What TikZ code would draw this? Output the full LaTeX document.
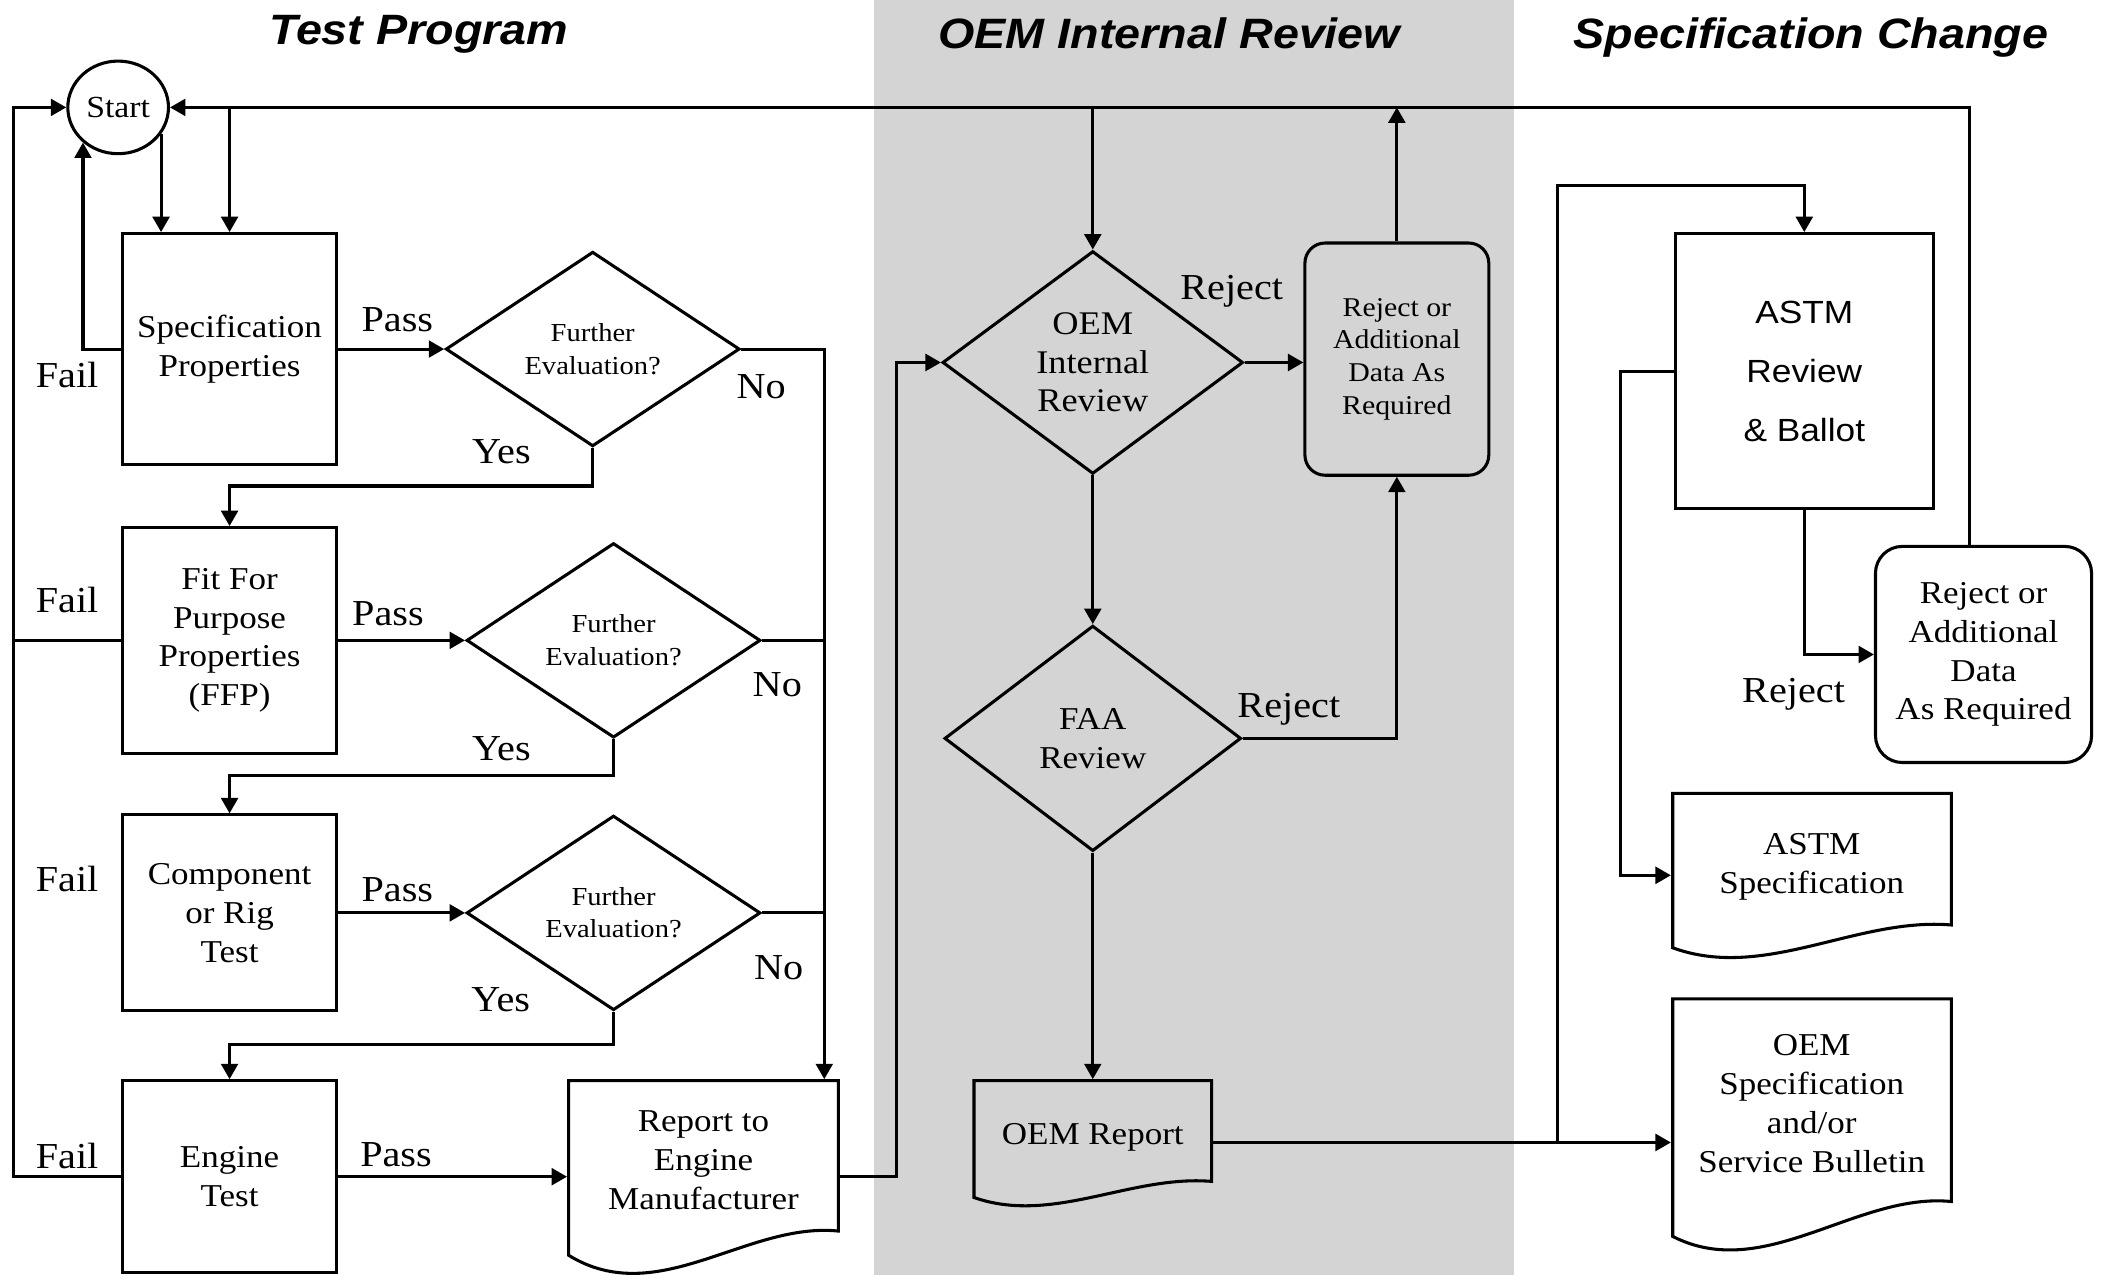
\documentclass[tikz,border=0pt]{standalone}
\usepackage{fontspec}
\setmainfont{Liberation Serif}[FakeStretch=1.1]
\newfontfamily\sansf{Liberation Sans}[FakeStretch=1.1]
\usetikzlibrary{shapes.geometric,arrows.meta,calc}
\definecolor{band}{RGB}{212,212,212}
\begin{document}
\begin{tikzpicture}[x=0.02cm, y=-0.02cm, line width=1.3pt,
  arr/.style={-{Triangle[length=0.23cm,width=0.25cm]}},
  txt/.style={font=\fontsize{13.5}{16.5}\selectfont, align=center, inner sep=0pt},
  proc/.style={txt, draw, rectangle},
  dec/.style={txt, draw, diamond},
  rbox/.style={txt, draw, rectangle, rounded corners=0.3cm},
  lbl/.style={font=\fontsize{15.5}{18}\selectfont, inner sep=0pt},
  ttl/.style={font=\sansf\bfseries\itshape\fontsize{18}{21}\selectfont, inner sep=0pt, anchor=base}]
\useasboundingbox (0,0) rectangle (1568,950);
\fill[band] (651,0) rectangle (1128,950);

% titles
\node[ttl] (t1) at (312,33.5) {Test Program};
\node[ttl] (t2) at (871,36) {OEM Internal Review};
\node[ttl] (t3) at (1349,36) {Specification Change};

% test program column
\node[draw, ellipse, minimum width=1.5cm, minimum height=1.38cm, inner sep=0pt,
      font=\fontsize{13}{15}\selectfont] (start) at (88,80) {Start};
\node[proc, minimum width=3.2cm, minimum height=3.44cm] (spec) at (171,260) {Specification\\Properties};
\node[proc, minimum width=3.2cm, minimum height=3.36cm] (ffp) at (171,477) {Fit For\\Purpose\\Properties\\(FFP)};
\node[proc, minimum width=3.2cm, minimum height=2.92cm] (crt) at (171,680) {Component\\or Rig\\Test};
\node[proc, minimum width=3.2cm, minimum height=2.86cm] (eng) at (171,876.5) {Engine\\Test};

\node[dec, font=\fontsize{11}{13.8}\selectfont, minimum width=4.38cm, minimum height=2.9cm] (d1) at (441.5,260) {Further\\Evaluation?};
\node[dec, font=\fontsize{11}{13.8}\selectfont, minimum width=4.38cm, minimum height=2.9cm] (d2) at (457,477) {Further\\Evaluation?};
\node[dec, font=\fontsize{11}{13.8}\selectfont, minimum width=4.38cm, minimum height=2.9cm] (d3) at (457,680) {Further\\Evaluation?};

\node[txt, minimum width=4.02cm, minimum height=2.38cm] (rep) at (524,864.5) {Report to\\Engine\\Manufacturer};
\draw (423.5,805) -- (624.5,805) -- (624.5,917) .. controls (556,910) and (490,976) .. (423.5,935) -- cycle;

% OEM internal review column
\node[dec, font=\fontsize{14}{16.3}\selectfont, minimum width=4.48cm, minimum height=3.32cm] (oem) at (814,270) {OEM\\Internal\\Review};
\node[dec, minimum width=4.42cm, minimum height=3.36cm] (faa) at (814,550) {FAA\\Review};
\node[rbox, font=\fontsize{11.5}{13.8}\selectfont, minimum width=2.74cm, minimum height=3.46cm] (rej1) at (1040.5,267.5) {Reject or\\Additional\\Data As\\Required};
\node[txt, minimum width=3.54cm, minimum height=1.68cm] (oemrep) at (814,847) {OEM Report};
\draw (725.5,805) -- (902.5,805) -- (902.5,880) .. controls (842,875) and (784,912.5) .. (725.5,892) -- cycle;

% specification change column
\node[proc, font=\sansf\fontsize{13.6}{25}\selectfont, minimum width=3.84cm, minimum height=4.1cm] (astm) at (1344,276.5) {ASTM\\Review\\\& Ballot};
\node[rbox, rounded corners=0.4cm, minimum width=3.22cm, minimum height=3.22cm] (rej2) at (1477.5,487.5) {Reject or\\Additional\\Data\\As Required};
\node[txt, minimum width=4.15cm, minimum height=2.2cm] (astmspec) at (1349.5,646) {ASTM\\Specification};
\draw (1246,591) -- (1453.5,591) -- (1453.5,689) .. controls (1383,683) and (1314.5,731) .. (1246,706) -- cycle;
\node[txt, minimum width=4.15cm, minimum height=3.12cm] (oemspec) at (1349.5,822) {OEM\\Specification\\and/or\\Service Bulletin};
\draw (1246,744) -- (1453.5,744) -- (1453.5,895) .. controls (1383,888) and (1314.5,956) .. (1246,921) -- cycle;

% helper coordinates
\coordinate (tl) at (10,80);
\coordinate (tr) at (1467,80);
\coordinate (nox) at (614,260);
\coordinate (ox) at (668,270);
\coordinate (h1) at (0,362);
\coordinate (h2) at (0,578);
\coordinate (h3) at (0,778);
\coordinate (jx) at (1160,851);
\coordinate (jt) at (0,138);
\coordinate (ix) at (1207,652);

% connectors: test program
\draw[arr] (start.-32) -- (start.-32 |- spec.north);
\draw[arr] (spec.north |- start.east) -- (spec.north);
\draw[arr] (spec.west) -| (start.-135);
\draw[arr] (eng.west) -| (tl) -- (start.west);
\draw (ffp.west) -- (ffp.west -| tl);
\draw[arr] (spec.east) -- (d1.west);
\draw[arr] (ffp.east) -- (d2.west);
\draw[arr] (crt.east) -- (d3.west);
\draw[arr] (eng.east) -- (eng.east -| rep.west);
\draw[arr] (d1.east) -- (nox) -- (nox |- rep.north);
\draw (d2.east) -- (d2.east -| nox);
\draw (d3.east) -- (d3.east -| nox);
\draw[arr] (d1.south) -- (d1.south |- h1) -| (ffp.north);
\draw[arr] (d2.south) -- (d2.south |- h2) -| (crt.north);
\draw[arr] (d3.south) -- (d3.south |- h3) -| (eng.north);
\draw[arr] (eng.east -| rep.east) -- (ox |- eng.east) -- (ox) -- (oem.west);

% connectors: OEM review
\draw[arr] (rej2.north -| tr) -- (tr) -- (start.east);
\draw[arr] (oem.north |- start.east) -- (oem.north);
\draw[arr] (oem.east) -- (oem.east -| rej1.west);
\draw[arr] (rej1.north) -- (rej1.north |- start.east);
\draw[arr] (oem.south) -- (faa.north);
\draw[arr] (faa.east) -| (rej1.south);
\draw[arr] (faa.south) -- (oemrep.north);

% connectors: specification change
\draw[arr] (oemrep.east |- jx) -- (oemspec.west |- jx);
\draw[arr] (jx) -- (jx |- jt) -| (astm.north);
\draw[arr] (astm.west) -| (ix) -- (ix -| astmspec.west);
\draw[arr] (astm.south) |- (rej2.west);

% labels
\node[lbl] (f1) at (50,279) {Fail};
\node[lbl] (f2) at (50,447) {Fail};
\node[lbl] (f3) at (50,655) {Fail};
\node[lbl] (f4) at (50,861) {Fail};
\node[lbl] (p1) at (296,238.5) {Pass};
\node[lbl] (p2) at (289,457) {Pass};
\node[lbl] (p3) at (296,663) {Pass};
\node[lbl] (p4) at (295,860) {Pass};
\node[lbl] (y1) at (373.5,336.5) {Yes};
\node[lbl] (y2) at (373.5,557.5) {Yes};
\node[lbl] (y3) at (373,745) {Yes};
\node[lbl] (n1) at (567,288) {No};
\node[lbl] (n2) at (579,510) {No};
\node[lbl] (n3) at (580,720.7) {No};
\node[lbl] (r1) at (917.5,217) {Reject};
\node[lbl] (r2) at (960,528) {Reject};
\node[lbl] (r3) at (1336,517) {Reject};
\end{tikzpicture}
\end{document}
